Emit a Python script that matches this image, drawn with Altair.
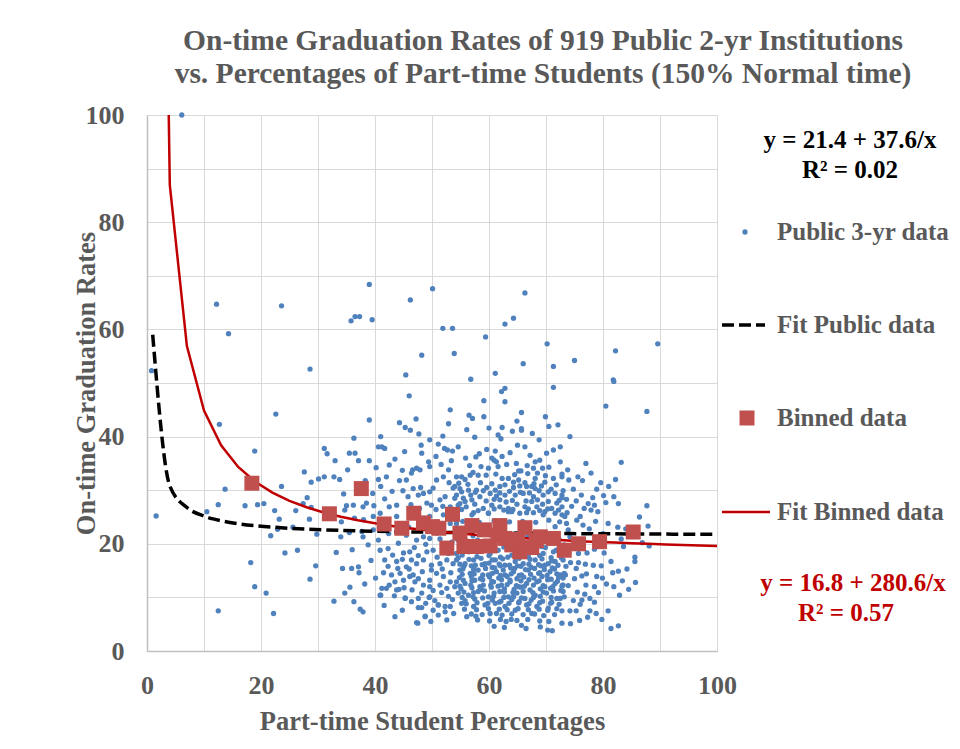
import altair as alt
import pandas as pd

# ---- Public 2-yr institutions (part-time %, graduation rate) ----
pts_high = [(6.1,100),(12.2,64.7),(14.3,59.2),(23.6,64.4),(28.6,52.6),(39.0,68.4),(35.8,61.6),
            (36.5,62.4),(37.3,62.4),(39.5,61.8),(46.2,65.5),(50.1,67.6),(48.2,55.2),(45.4,51.5),
            (0.8,52.3),(51.9,60.2),(53.6,60.2),(53.9,55.5),(59.4,58.6),(62.8,61.0),(64.3,62.1),
            (66.3,66.8),(70.2,57.3),(66.0,53.6),(61.1,51.8),(56.8,50.7),(71.3,53.1),(75.0,54.2),
            (82.2,56.0),(89.6,57.3),(81.8,50.6)]

pts_left = [(1.6,25.2),(12.5,7.5),(22.2,7.0),(12.7,42.3),(22.6,44.2),(13.7,30.2),(12.5,27.3),
            (10.5,26.0),(18.9,37.3),(17.2,27.1),(19.4,27.3),(20.5,27.5),(18.2,16.5),(18.9,12.0),
            (20.9,10.8),(23.6,30.7),(22.4,26.2),(23.2,24.6),(21.7,21.5),(22.9,22.7),(24.2,18.3),
            (26.4,18.8),(26.1,26.2),(25.6,23.1),(27.6,33.4),(28.1,28.6),(27.4,27.5),(28.8,31.5),
            (28.8,26.8),(28.5,24.6),(29.8,21.8),(30.1,32.1),(31.1,32.5),(31.1,37.8),(31.6,36.8),
            (29.6,15.9),(28.6,13.4)]

pts_mid_top = [(46.0,47.6),(39.0,43.1),(44.3,42.6),(45.3,41.7),(46.2,41.2),(47.2,43.3),(47.7,40.5),
               (53.2,45.0),(52.9,42.4),(51.9,40.1),(49.6,39.4),(51.1,38.6),(52.2,37.8),(52.7,37.5),
               (53.6,37.3),(41.0,40.0),(40.6,38.1),(41.2,38.1),(41.7,37.8),(36.3,39.7),(35.5,36.9),
               (36.5,36.9),(37.1,35.5),(39.0,35.5),(33.0,35.5),(32.8,32.5),(42.5,34.7),(48.2,36.9),
               (49.4,35.3),(49.6,34.4),(50.7,36.3),(46.6,33.8),(47.3,34.1),(47.9,33.8),(46.4,33.2),
               (40.6,32.0),(41.0,30.7),(44.3,31.8),(45.5,31.9),(46.7,30.3),(48.0,30.5),(48.5,29.4),
               (49.6,29.7),(50.8,31.9),(52.0,32.5),(52.9,33.8),(53.0,31.4),(53.7,30.4),(54.3,32.5),
               (41.7,28.4),(42.5,26.9),(43.8,27.2),(45.8,28.8),(47.6,29.1),(49.1,27.6),(49.9,27.2),
               (51.4,28.2),(52.3,28.8),(53.2,26.9),(54.0,28.5),(54.6,27.2),(35.0,27.1),(36.2,27.2),
               (37.9,26.9),(38.5,27.6),(34.7,26.3)]

pts_mid_low = [(34.1,24.1),(35.5,22.1),(37.7,22.3),(37.9,21.3),(38.8,19.8),(40.9,18.8),(42.3,19.1),
               (44.1,20.1),(45.0,18.3),(46.1,18.5),(46.4,17.0),(41.7,17.0),(43.8,16.7),(45.5,15.7),
               (47.3,16.3),(48.5,17.0),(49.1,18.5),(50.2,18.8),(49.9,16.0),(51.4,16.3),(52.6,17.0),
               (53.7,16.3),(54.3,18.2),(52.9,18.2),(41.5,14.6),(42.9,14.2),(44.4,14.5),(45.0,13.2),
               (46.1,13.9),(46.7,14.2),(47.0,12.9),(47.6,13.5),(48.5,12.3),(49.6,13.2),(50.8,14.5),
               (52.0,13.9),(53.2,12.9),(54.0,12.0),(52.6,11.7),(51.4,12.3),(49.6,12.0),(34.3,15.4),
               (35.9,15.4),(37.1,15.7),(37.2,14.6),(38.2,12.5),(35.6,11.9),(34.7,10.8),(32.8,9.3),
               (36.3,9.2),(37.4,7.8),(37.9,7.3),(41.2,11.7),(40.9,10.4),(42.5,12.3),(43.5,12.9),
               (44.2,11.5),(45.3,9.9),(47.6,8.1),(48.2,8.1),(49.5,10.0),(50.5,9.4),(51.1,8.6),
               (52.3,8.3),(53.2,8.3),(52.3,7.3),(51.1,6.7),(48.8,6.4),(47.5,5.2),(43.5,6.4),
               (39.7,25.1),(40.9,25.7),(42.3,24.4),(43.8,25.1),(46.7,25.4),(47.9,24.4),(49.6,25.1),
               (50.8,24.1),(52.0,25.4),(53.2,23.8),(54.3,22.6),(50.8,22.0),(49.6,21.0),(48.5,21.3),
               (45.5,21.6),(47.3,20.7),(39.7,22.6),(42.0,11.7),(43.8,11.4),(41.0,10.4),(49.6,10.1),
               (47.3,5.3),(51.1,8.6),(48.8,6.5),(45.3,9.8)]

pts_mid_more = [(40.2,34.2),(42.0,32.5),(43.5,35.8),(44.8,33.7),(45.2,37.2),(43.0,29.8),(44.9,29.9),
                (46.3,27.3),(47.8,26.6),(50.7,26.4),(51.9,27.0),(53.5,25.3),(50.2,30.4),(51.6,34.8),
                (53.4,35.5),(48.1,38.4),(44.0,22.7),(45.9,23.1),(42.4,21.9),(41.0,23.2),(40.6,20.7),
                (43.1,17.9),(44.8,17.1),(47.6,17.8),(50.9,17.5),(52.0,19.5),(53.5,20.3),(51.4,20.9),
                (48.9,19.9),(46.9,19.3),(42.3,15.8),(44.0,15.4),(46.0,15.3),(48.3,14.8),(49.9,15.1),
                (51.8,15.3),(53.3,14.6),(52.9,10.2),(51.7,10.9),(50.2,11.3),(48.2,10.8),(46.5,11.4),
                (45.1,11.8),(43.4,10.3),(46.4,9.2),(47.6,9.8),(48.9,8.9),(50.2,7.6),(53.6,9.6),
                (53.8,7.0),(52.6,5.8),(49.8,5.5),(44.8,7.6),(41.6,8.5),(40.1,13.6),(39.3,16.9),
                (39.6,29.4),(38.3,31.8),(36.8,30.1),(34.5,29.3),(33.8,32.0),(35.2,33.8),(38.0,24.5),
                (36.4,24.8),(34.0,21.3),(33.2,18.4),(36.0,18.9),(39.8,27.1)]

pts_core_top = [(62.2,48.4),(62.8,49.0),(59.1,46.7),(62.8,46.5),(71.3,49.2),(56.5,44.0),(57.1,43.4),
                (59.1,43.7),(65.7,44.5),(62.3,41.7),(64.1,41.0),(65.7,41.5),(65.7,41.2),(70.5,41.9),
                (61.6,40.3),(62.1,39.6),(54.6,38.1),(59.6,37.6),(61.1,37.3),(65.0,38.4),(66.3,38.1),
                (68.8,39.4),(55.9,36.0),(57.7,36.2),(60.5,36.0),(61.3,35.3),(61.6,34.4),(60.9,35.6),
                (62.3,36.3),(68.1,35.3),(68.9,35.6),(70.1,36.9),(67.8,34.1),(69.4,34.1),(68.5,33.2),
                (72.5,35.3),(59.9,34.1),(65.2,33.6),(65.6,33.6),(71.3,32.2),(72.8,32.5),(55.2,32.5),
                (55.8,32.0),(56.7,32.8),(58.1,32.8),(62.3,32.2),(63.4,32.2),(65.2,31.9),(68.1,32.2),
                (54.0,30.7),(54.9,30.3),(56.4,30.0),(57.8,30.0),(59.6,30.5),(61.1,30.0),(61.9,30.7),
                (62.8,29.1),(64.3,30.5),(65.4,30.8),(66.6,30.7),(67.5,30.7),(68.1,30.3),(69.2,30.8),
                (70.4,29.7),(71.6,29.4),(72.8,29.1),(54.3,29.1),(55.5,28.5),(56.8,29.1),(58.4,28.8),
                (60.2,29.4),(61.3,28.9),(64.6,29.1),(66.0,29.4),(67.8,28.8),(69.5,29.1),(54.9,27.5),
                (56.0,26.9),(57.5,27.4),(59.0,26.6),(60.5,27.2),(61.9,28.2),(61.9,26.9),(63.4,26.6),
                (64.9,27.4),(66.3,26.9),(67.5,27.9),(68.4,26.9),(69.4,27.4),(71.0,26.6),(71.9,27.6),
                (72.8,26.9),(57.3,25.8),(59.9,25.7),(63.4,26.0),(65.4,25.7),(67.8,25.8),(69.8,26.0),
                (71.6,25.7)]

pts_core_upper_fill = [(55.2,26.4),(58.1,26.2),(60.9,26.5),(62.6,26.3),(64.2,26.4),(66.9,26.5),(68.9,26.2),
                       (70.3,26.5),(72.2,26.3),(55.8,27.9),(57.0,28.2),(59.5,28.0),(60.9,28.3),(63.0,27.8),
                       (64.1,28.1),(66.5,28.0),(68.5,28.2),(70.4,27.9),(72.3,28.1),(55.2,29.7),(57.6,29.6),
                       (59.0,29.9),(61.9,29.5),(63.6,29.8),(65.5,29.6),(67.1,29.5),(68.8,29.9),(70.9,30.2),
                       (54.7,31.3),(56.3,31.1),(58.5,31.4),(60.5,31.2),(62.8,31.0),(64.3,31.5),(66.3,31.4),
                       (67.9,31.2),(69.8,31.5),(71.8,31.0),(57.2,33.3),(59.5,32.8),(61.2,33.0),(64.5,32.9),
                       (66.8,33.1),(69.9,32.7),(56.6,34.6),(58.6,34.4),(63.1,34.8),(64.8,35.0),(66.7,34.6),
                       (70.5,34.3),(58.3,36.8),(63.7,37.0),(67.2,36.5),(71.3,37.5),(57.5,39.9),(60.0,41.6),
                       (64.9,42.9),(67.6,40.6),(69.9,43.7),(56.1,41.3),(72.1,42.2)]

pts_core_low = [(54.9,18.8),(56.4,18.5),(58.4,19.1),(60.2,18.2),(61.6,18.8),(63.4,19.1),(65.2,18.5),
                (67.5,18.8),(69.5,18.2),(71.3,18.5),(72.8,18.2),(54.3,17.0),(55.8,16.3),(57.3,17.0),
                (59.3,16.3),(61.1,17.0),(62.8,16.0),(64.6,16.7),(66.0,16.3),(68.1,17.0),(69.8,16.0),
                (71.6,16.7),(73.0,17.0),(54.9,15.1),(56.7,14.5),(58.1,15.1),(59.9,14.2),(61.3,14.8),
                (62.8,14.2),(64.3,14.8),(65.7,14.2),(66.9,15.1),(68.7,14.5),(70.7,14.8),(72.5,14.2),
                (54.3,12.9),(55.8,12.6),(57.5,13.2),(59.0,12.3),(60.8,12.9),(62.2,12.3),(63.7,12.9),
                (65.2,12.0),(66.6,12.6),(68.4,12.9),(69.8,12.0),(71.6,12.6),(73.0,12.3),(54.6,10.8),
                (56.4,10.4),(58.1,11.1),(59.9,10.1),(61.9,11.1),(63.4,10.1),(64.9,10.8),(66.3,9.8),
                (68.1,10.4),(70.1,10.8),(71.9,9.8),(55.2,8.9),(57.3,8.3),(59.3,8.6),(61.1,8.9),
                (62.8,8.3),(64.6,7.6),(66.6,8.6),(68.4,8.3),(70.4,8.0),(56.1,6.4),(57.7,6.5),
                (61.3,7.0),(63.9,5.9),(65.7,4.8),(71.1,3.8),(67.5,7.0),(54.3,25.7),(57.0,25.4),
                (59.9,25.7),(64.0,26.0),(66.6,25.8),(69.5,25.4),(72.8,25.4),(55.8,20.1),(60.5,19.8),
                (63.4,19.5),(69.2,19.5),(72.2,20.1),(54.3,23.8),(62.8,23.8),(71.6,23.2)]

pts_core_fill = [(55.3,17.9),(57.9,17.6),(60.0,17.8),(62.0,17.5),(64.0,17.9),(66.9,17.6),(68.9,17.8),
                 (70.9,17.4),(72.4,17.9),(55.6,15.8),(57.6,16.0),(60.6,15.6),(62.0,15.9),(63.8,15.5),
                 (65.6,15.8),(67.4,15.6),(69.1,15.9),(71.1,15.5),(73.5,15.8),(54.8,13.7),(56.9,13.9),
                 (58.5,13.5),(60.1,13.8),(61.7,13.6),(63.2,13.9),(64.9,13.5),(66.1,13.8),(67.9,13.6),
                 (69.3,13.9),(70.9,13.4),(72.2,13.7),(55.1,11.6),(57.0,11.8),(58.6,11.5),(60.4,11.9),
                 (62.7,11.6),(64.4,11.5),(65.6,11.9),(67.2,11.4),(69.0,11.6),(70.8,11.7),(72.6,11.3),
                 (55.8,9.4),(57.5,9.7),(60.6,9.5),(62.1,9.3),(64.0,9.6),(65.3,9.2),(67.4,9.5),
                 (69.4,9.3),(71.0,9.1),(55.0,21.7),(57.2,21.5),(58.9,21.8),(60.8,21.2),(63.0,21.6),
                 (64.8,21.9),(66.8,21.4),(68.5,21.8),(70.2,21.6),(72.0,21.7),(55.4,24.2),(58.3,24.0),
                 (60.9,24.3),(63.6,24.1),(65.9,24.2),(68.2,24.0),(70.5,24.4),(72.4,24.1)]

pts_core_fill2 = [(54.5,20.8),(56.2,20.5),(58.0,20.7),(59.7,20.4),(61.5,20.9),(63.3,20.3),(65.0,20.6),
                  (66.8,20.2),(68.6,20.7),(70.4,20.3),(72.3,20.8),(55.6,19.2),(57.5,18.9),(59.2,19.3),
                  (61.0,18.8),(62.6,19.4),(64.4,18.9),(66.2,19.2),(68.0,19.0),(69.9,19.3),(71.8,18.8),
                  (54.6,17.4),(56.5,17.1),(58.6,17.3),(60.6,17.0),(62.4,17.2),(63.3,17.5),(65.3,17.3),
                  (67.2,17.1),(69.3,17.2),(71.0,16.8),(72.7,17.4),(54.9,16.2),(56.9,15.9),(58.8,16.1),
                  (60.0,16.4),(61.8,16.2),(63.6,16.0),(65.0,15.9),(67.0,16.2),(68.7,16.1),(70.4,16.3),
                  (72.1,16.0),(55.4,15.3),(57.3,15.2),(59.4,15.4),(61.0,15.5),(62.5,15.1),(64.5,15.4),
                  (66.4,15.2),(68.0,15.4),(69.7,15.2),(71.5,15.3),(55.3,14.3),(57.4,14.4),(58.9,14.2),
                  (60.6,14.5),(62.0,14.1),(63.9,14.4),(65.3,14.1),(67.3,14.3),(68.9,14.6),(70.2,14.1),
                  (71.9,14.4),(73.4,14.2),(55.5,13.2),(57.0,13.1),(58.9,13.3),(60.5,13.0),(62.2,13.3),
                  (63.7,13.2),(65.6,13.1),(67.0,13.3),(68.8,13.1),(70.3,13.3),(72.0,13.0),(54.9,12.1),
                  (56.8,12.3),(58.4,12.0),(60.3,12.3),(61.6,12.1),(63.2,12.4),(64.8,12.2),(66.2,12.1),
                  (67.8,12.3),(69.5,12.2),(71.2,12.0),(72.9,12.3),(55.6,11.0),(57.3,10.9),(59.2,11.2),
                  (60.9,10.8),(62.7,11.0),(64.2,10.9),(66.0,11.1),(67.7,10.9),(69.5,11.0),(71.3,11.2),
                  (55.3,10.0),(57.2,10.1),(58.9,9.9),(60.8,10.2),(62.6,10.0),(64.3,10.1),(65.7,9.9),
                  (67.8,10.0),(69.0,10.2),(70.9,10.0),(72.5,9.8),(56.0,8.8),(57.9,9.0),(59.8,8.9),
                  (61.8,9.1),(63.5,8.9),(65.2,9.0),(67.0,8.8),(68.9,9.0),(70.8,8.9),(72.3,8.7),
                  (55.7,7.8),(57.8,7.7),(59.9,7.9),(61.8,7.8),(63.2,7.7),(65.1,7.9),(66.9,7.7),
                  (68.8,7.8),(70.3,7.6),(71.9,7.9),(56.9,6.9),(58.8,6.8),(60.2,7.0),(62.3,6.7),
                  (64.0,6.9),(66.0,6.8),(68.0,6.9),(69.6,6.6),(71.5,6.8),(58.0,5.8),(60.1,5.6),
                  (62.0,5.9),(63.0,5.5),(64.9,5.7),(66.8,5.9),(68.9,5.6),(70.5,5.5),(60.9,4.6),
                  (62.7,4.4),(66.5,4.2),(69.0,4.5),(70.3,3.9)]

pts_right = [(74.2,40.0),(72.5,38.1),(77.0,35.0),(83.2,35.2),(72.8,33.0),(76.4,31.8),(82.2,32.0),
             (81.0,30.7),(78.9,30.2),(74.8,30.2),(73.0,29.9),(72.8,28.6),(73.6,28.3),(78.2,28.6),
             (77.4,27.5),(78.5,27.2),(80.5,27.7),(82.7,27.5),(87.7,27.1),(74.5,27.0),(77.9,26.3),
             (73.7,25.8),(81.9,50.3),(80.5,45.7),(87.7,44.7),(80.9,23.8),(83.2,20.9),(83.6,19.5),
             (87.9,23.3),(86.9,20.2),(88.1,19.6),(80.2,18.3),(85.6,17.5),(85.6,16.7),(81.7,14.6),
             (82.7,14.9),(83.4,13.1),(85.7,12.8),(84.5,11.5),(82.9,10.4),(80.9,7.5),(81.4,4.2),
             (82.7,4.7),(78.9,13.9),(79.9,13.6),(78.5,12.0),(79.2,10.9),(77.7,9.8),(78.5,9.1),
             (77.3,6.3),(77.7,7.5),(76.0,8.7),(75.3,7.5),(74.2,7.5),(72.8,7.5),(72.8,5.2),
             (74.8,9.4),(75.5,11.0),(76.8,10.6),(76.3,9.5),(73.0,11.1),(73.2,10.1),(73.9,12.2),
             (72.8,12.1),(75.3,15.4),(75.7,16.5),(76.3,14.0),(77.1,14.4),(73.2,14.5),(73.0,13.6),
             (73.3,25.1),(76.0,25.1),(73.6,23.8),(75.4,24.4),(73.9,22.6),(75.9,20.7),(75.7,18.2),
             (73.2,19.8),(74.2,21.3),(74.8,19.5)]

pts_right_more = [(73.8,33.8),(75.6,32.5),(77.9,33.2),(79.6,31.4),(76.2,29.1),(74.0,31.9),(80.1,29.0),
                  (81.9,28.8),(79.1,26.0),(76.7,26.6),(75.3,28.0),(78.7,24.2),(77.6,22.8),(76.5,23.5),
                  (80.0,21.9),(78.5,19.0),(77.2,18.3),(76.9,16.2),(78.3,16.0),(79.7,15.9),(81.4,16.7),
                  (80.6,12.5),(81.9,12.0),(77.0,12.3),(75.0,13.5),(74.3,16.5),(74.0,18.3),(78.8,7.0),
                  (79.8,5.9),(75.9,5.7),(74.3,5.1),(84.2,15.3),(86.4,25.0),(84.0,22.8),(82.6,23.1)]

# ---- Binned averages ----
bin_x = [18.4,32.0,37.6,41.6,44.7,46.8,48.5,50.1,51.2,52.6,53.6,54.9,55.6,57.0,57.8,59.2,
         60.2,61.6,61.9,62.8,64.0,65.0,65.4,66.3,67.5,68.3,69.0,71.3,73.2,75.7,79.4,85.3]
bin_y = [31.3,25.6,30.3,23.7,22.9,25.7,23.9,23.2,22.9,19.2,25.5,22.0,19.5,23.4,19.5,22.6,
         19.6,21.6,23.4,21.0,19.8,20.8,18.5,23.0,19.3,20.6,21.3,21.0,18.8,20.0,20.4,22.2]

# ---- Fitted curves (points along the drawn lines) ----
fit_x = [1,4,7,10,13,16,19,22,25,28,31,34,37,40,43,46,49,52,55,58,61,64,67,70,73,76,79,82,85,88,91,94,97,100]
fit_pub_y = [59.00,30.80,26.77,25.16,24.29,23.75,23.38,23.11,22.90,22.74,22.61,22.51,22.42,22.34,22.27,
             22.22,22.17,22.12,22.08,22.05,22.02,21.99,21.96,21.94,21.92,21.89,21.88,21.86,21.84,21.83,
             21.81,21.80,21.79,21.78]
fit_bin_y = [297.4,86.95,56.89,44.86,38.38,34.34,31.57,29.55,28.02,26.82,25.85,25.05,24.38,23.82,23.33,
             22.90,22.53,22.20,21.90,21.64,21.40,21.18,20.99,20.81,20.64,20.49,20.35,20.22,20.10,19.99,
             19.88,19.79,19.69,19.61]

FONT = "Liberation Serif"
GRAY = "#595959"
RED = "#C00000"

pub = pd.DataFrame(pts_high + pts_left + pts_mid_top + pts_mid_low + pts_mid_more + pts_core_top +
                   pts_core_upper_fill + pts_core_low + pts_core_fill + pts_core_fill2 + pts_right +
                   pts_right_more, columns=["x", "y"])
bins = pd.DataFrame({"x": bin_x, "y": bin_y})
fits = pd.DataFrame({"x": fit_x, "pub": fit_pub_y, "bin": fit_bin_y})

xs = alt.Scale(domain=[0, 100], nice=False, zero=False)
ys = alt.Scale(domain=[0, 100], nice=False, zero=False)

axis_common = dict(values=list(range(0, 101, 10)),
                   labelExpr="datum.value % 20 == 0 ? datum.label : ''",
                   ticks=False, grid=True, gridColor="#D9D9D9", gridWidth=1,
                   domainColor="#BFBFBF", domainWidth=1.5,
                   labelFont=FONT, labelFontWeight="bold", labelFontSize=26, labelColor=GRAY,
                   labelFlush=False, labelOverlap=False,
                   titleFont=FONT, titleFontWeight="bold", titleFontSize=26.5, titleColor=GRAY)

xaxis = alt.Axis(title="Part-time Student Percentages", labelPadding=21, titlePadding=10, **axis_common)
yaxis = alt.Axis(title="On-time Graduation Rates", labelPadding=23, titleX=-47, titleY=268,
                 titleBaseline="bottom", **axis_common)

X = alt.X("x:Q", scale=xs, axis=xaxis)
Y = alt.Y("y:Q", scale=ys, axis=yaxis)

points = alt.Chart(pub).mark_circle(size=28, color="#4F81BD", opacity=1).encode(x=X, y=Y)

fit_pub_line = alt.Chart(fits).mark_line(color="black", strokeWidth=3.5, strokeDash=[12, 5],
                                         interpolate="monotone", clip=True).encode(
    x=alt.X("x:Q", scale=xs), y=alt.Y("pub:Q", scale=ys))
fit_bin_line = alt.Chart(fits).mark_line(color=RED, strokeWidth=2.5, clip=True).encode(
    x=alt.X("x:Q", scale=xs), y=alt.Y("bin:Q", scale=ys))
squares = alt.Chart(bins).mark_point(shape="square", filled=True, size=225, color="#C0504D",
                                     opacity=1).encode(x=alt.X("x:Q", scale=xs), y=alt.Y("y:Q", scale=ys))

one = pd.DataFrame({"k": [0]})


def label(text, x, y, color=GRAY, size=25, align="left"):
    return alt.Chart(one).mark_text(font=FONT, fontWeight="bold", fontSize=size, color=color,
                                    align=align, baseline="middle").encode(
        x=alt.value(x), y=alt.value(y), text=alt.value(text))


title1 = label("On-time  Graduation  Rates of 919 Public  2-yr Institutions", 396, -74, size=29.5, align="center")
title2 = label("vs. Percentages of Part-time  Students (150% Normal time)", 396, -41, size=29.5, align="center")

eq1a = label("y = 21.4 + 37.6/x", 703, 25, color="black", align="center")
eq1b = label("R\u00b2 = 0.02", 703, 55, color="black", align="center")
eq2a = label("y = 16.8 + 280.6/x", 706, 468, color=RED, align="center")
eq2b = label("R\u00b2 = 0.57", 699, 498, color=RED, align="center")

leg_t1 = label("Public 3-yr data", 630, 117)
leg_t2 = label("Fit Public data", 630, 210)
leg_t3 = label("Binned data", 630, 303)
leg_t4 = label("Fit Binned data", 630, 397)

leg_dot = alt.Chart(one).mark_circle(size=28, color="#4F81BD", opacity=1).encode(
    x=alt.value(598), y=alt.value(117))
leg_dash = alt.Chart(one).mark_rule(color="black", strokeWidth=3.5, strokeDash=[12, 5]).encode(
    x=alt.value(575), x2=alt.value(618), y=alt.value(210))
leg_sq = alt.Chart(one).mark_point(shape="square", filled=True, size=225, color="#C0504D",
                                   opacity=1).encode(x=alt.value(600), y=alt.value(303))
leg_red = alt.Chart(one).mark_rule(color=RED, strokeWidth=2.5).encode(
    x=alt.value(575), x2=alt.value(623), y=alt.value(397))

chart = alt.layer(points, fit_pub_line, fit_bin_line, squares,
                  title1, title2, eq1a, eq1b, eq2a, eq2b,
                  leg_t1, leg_t2, leg_t3, leg_t4, leg_dot, leg_dash, leg_sq, leg_red).properties(
    width=570, height=536, autosize="none",
    padding={"left": 139, "top": 107, "right": 235, "bottom": 87},
).configure_view(stroke=None).configure(background="white")

chart.save("out.html", embed_options={"renderer": "svg", "actions": False})
